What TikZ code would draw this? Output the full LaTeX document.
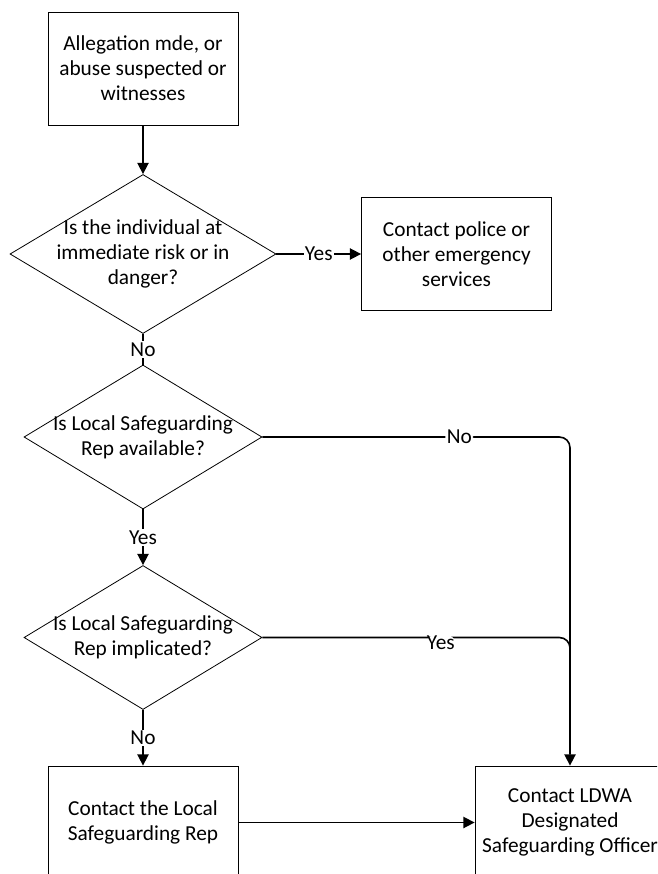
\documentclass[tikz,border=0pt]{standalone}
\usepackage{fontspec}
\setmainfont{Carlito}
\usetikzlibrary{arrows.meta,shapes.geometric}
\begin{document}
\begin{tikzpicture}[x=0.75pt,y=-0.75pt,
  every node/.style={font=\fontsize{16}{18.75}\selectfont, text=black},
  box/.style={draw, line width=0.6pt, minimum width=142.5pt, minimum height=84.75pt, align=center, inner sep=0pt},
  dec/.style={draw, diamond, line width=0.6pt, inner sep=0pt},
  bigdec/.style={dec, minimum width=199.5pt, minimum height=119.25pt},
  smalldec/.style={dec, minimum width=178.5pt, minimum height=108pt},
  wire/.style={line width=1.2pt},
  conn/.style={wire, -{Triangle[length=8.5pt,width=8.5pt]}},
  lab/.style={fill=white, inner sep=1pt}]
\useasboundingbox (0,0) rectangle (657,874);
\clip (0,0) rectangle (657,874);

\node[box] (b1) at (143,68.5) {Allegation mde, or\\abuse suspected or\\witnesses};
\node[bigdec, label={[align=center]center:Is the individual at\\immediate risk or in\\danger?}] (d1) at (143,254) {};
\node[box] (b2) at (456.5,254) {Contact police or\\other emergency\\services};
\node[smalldec, label={[align=center]center:Is Local Safeguarding\\Rep available?}] (d2) at (143,437) {};
\node[smalldec, label={[align=center]center:Is Local Safeguarding\\Rep implicated?}] (d3) at (143,637.5) {};
\node[box] (b3) at (143,822.5) {Contact the Local\\Safeguarding Rep};
\node[box] (b4) at (570,822.5) {Contact LDWA\\Designated\\Safeguarding Officer};
\coordinate (m) at (570,665);

\draw[conn] (b1) -- (d1);
\draw[conn] (d1) -- node[lab]{Yes} (b2);
\draw[wire] (d1) -- node[lab]{No} (d2);
\draw[conn] (d2) -- node[lab]{Yes} (d3);
\draw[conn] (d3) -- node[lab]{No} (b3);
\draw[conn] (b3) -- (b4);
\draw[conn, rounded corners=8pt] (d2.east) -- node[lab, pos=0.64]{No} (d2.east -| b4.north) -- (b4.north);
\draw[wire, rounded corners=8pt] (d3.east) -- node[lab, pos=0.58, yshift=-4pt]{Yes} (d3.east -| m) -- (m);
\end{tikzpicture}
\end{document}
